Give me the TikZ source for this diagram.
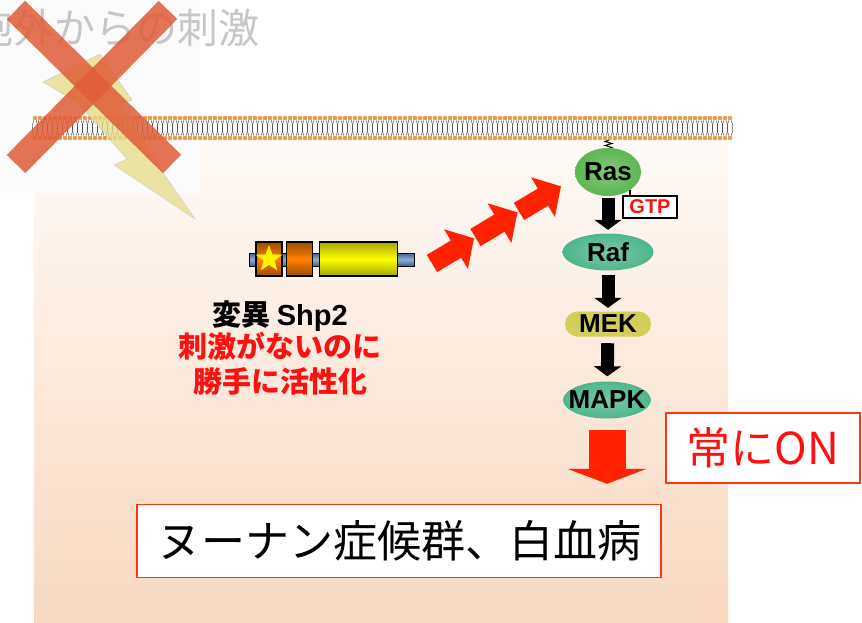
\documentclass[tikz,border=0pt]{standalone}
\usepackage{fontspec}
\setmainfont{Noto Sans CJK JP}
\newfontfamily\labelfont{Liberation Sans}
\usetikzlibrary{positioning,shapes.geometric,arrows.meta}

\definecolor{paneltop}{RGB}{254,250,247}
\definecolor{panelbot}{RGB}{248,216,191}
\definecolor{lipid}{RGB}{232,156,80}
\definecolor{crossred}{RGB}{224,92,56}
\definecolor{boltyel}{RGB}{230,222,140}
\definecolor{rasgreen}{RGB}{92,182,82}
\definecolor{kinteal}{RGB}{78,182,140}
\definecolor{mekyel}{RGB}{210,206,88}
\definecolor{sigred}{RGB}{255,34,0}
\definecolor{textred}{RGB}{255,16,16}
\definecolor{boxred}{RGB}{255,52,20}
\definecolor{shpblue}{RGB}{70,122,178}

\tikzset{
  kinase/.style={ellipse, inner sep=0pt},
  klabel/.style={font=\labelfont\bfseries\fontsize{26}{26}\selectfont},
  flow/.style={line width=13pt, -{Triangle[length=10pt,width=27pt]}},
  bigflow/.style={sigred, line width=37pt, -{Triangle[length=15pt,width=79pt]}},
  sigarrow/.style={sigred, line width=20pt, -{Triangle[length=21pt,width=45pt]}},
  shpdomain/.style={draw=black, line width=1.2pt, minimum height=34pt, inner sep=0pt},
  tail/.style={black!80, line width=0.4pt},
  xbar/.style={crossred, line width=26pt, opacity=0.85},
}

\begin{document}
\begin{tikzpicture}[x=1pt, y=-1pt]
  \useasboundingbox (0,0) rectangle (862,622);

  % cell interior and the faded stimulus corner
  \fill[top color=paneltop, bottom color=panelbot] (34,139) rectangle (728,622);
  \fill[black!1.5] (0,0) rectangle (200,193);
  \node[anchor=west, inner sep=0pt, text=black!22, font=\fontsize{41}{41}\selectfont]
    (stimulus) at (-28,28) {胞外からの刺激};

  % membrane
  \foreach \x in {35,40,...,730} {
    \draw[tail] (\x-1.2,120.5) .. controls (\x-3.2,125) and (\x-3.2,131) .. (\x-1.2,135.5);
    \draw[tail] (\x+1.2,120.5) .. controls (\x+3.2,125) and (\x+3.2,131) .. (\x+1.2,135.5);
    \fill[lipid] (\x,118) circle (2.3) (\x,138) circle (2.3);
  }

  % lightning, crossed out
  \filldraw[fill=boltyel, draw=blue!20!gray!40, opacity=0.8]
    (43,82) -- (100,54) -- (132,100) -- (122,104) -- (160,168) -- (195,219)
    -- (114,165) -- (127,159) -- (78,103) -- cycle;
  \draw[xbar] (16,10) -- (172,164);
  \draw[xbar] (168,10) -- (16,164);

  % mutant Shp2
  \fill[draw=black, line width=1pt, top color=shpblue!80!black, bottom color=shpblue!80!black,
    middle color=shpblue!60!white] (249,253) rectangle (414,266);
  \node[shpdomain, minimum width=26pt, top color=orange!60!black, bottom color=orange!60!black,
    middle color=orange] (dom1) at (269,259) {};
  \node[shpdomain, minimum width=26pt, top color=orange!60!black, bottom color=orange!60!black,
    middle color=orange, right=3pt of dom1] (dom2) {};
  \node[shpdomain, minimum width=78pt, top color=yellow!65!black, bottom color=yellow!65!black,
    middle color=yellow, right=6pt of dom2] (dom3) {};
  \node[star, star points=5, star point ratio=2.4, fill=yellow, inner sep=0pt,
    minimum size=28pt] (mut) at (dom1) {};

  \node[align=center, font=\bfseries\fontsize{29}{35}\selectfont] (shp2) at (280,348)
    {変異 {\labelfont Shp2}\\[-3pt]
     \textcolor{textred}{刺激がないのに}\\
     \textcolor{textred}{勝手に活性化}};

  % signal from Shp2 towards Ras
  \coordinate (s1a) at (432,263.5);  \coordinate (s1b) at (474,238.3);
  \coordinate (s2a) at (475.5,237.5); \coordinate (s2b) at (517.5,212.3);
  \coordinate (s3a) at (519,211.5);  \coordinate (s3b) at (561,186.3);
  \draw[sigarrow] (s1a) -- (s1b);
  \draw[sigarrow] (s2a) -- (s2b);
  \draw[sigarrow] (s3a) -- (s3b);

  % Ras-MAPK cascade
  \draw[line width=1pt] (609,140) -- (605,141.5) -- (612,143.5) -- (605,145.5) -- (612,147.5) -- (608,149);
  \node[kinase, inner color=rasgreen!75!white, outer color=rasgreen, minimum width=66pt,
    minimum height=48pt, label={[klabel]center:Ras}] (ras) at (608,172) {};
  \node[draw=black, line width=1.2pt, fill=white, minimum width=54pt, minimum height=22pt,
    inner sep=0pt, text=textred, font=\labelfont\bfseries\fontsize{20}{20}\selectfont]
    (gtp) at (650,207) {GTP};
  \draw[line width=2pt] (ras.-40) -- (ras.-40 |- gtp.north);

  \node[kinase, inner color=kinteal!75!white, outer color=kinteal, minimum width=91pt,
    minimum height=37pt, label={[klabel]center:Raf}] (raf) at (608,252) {};
  \node[rectangle, rounded corners=12.5pt, fill=mekyel, minimum width=86pt, minimum height=25pt,
    inner sep=0pt, label={[klabel]center:MEK}] (mek) at (608,324) {};
  \node[kinase, inner color=kinteal!75!white, outer color=kinteal, minimum width=88pt,
    minimum height=37pt, label={[klabel]center:MAPK}] (mapk) at (607,400) {};

  \draw[flow, shorten <=2pt, shorten >=3.5pt] (ras) -- (raf);
  \draw[flow, shorten <=4.5pt, shorten >=3.5pt] (raf) -- (mek);
  \draw[flow, shorten <=6.5pt, shorten >=5pt] (mek) -- (mapk);

  \node[draw=boxred, line width=1.5pt, fill=white, minimum width=194pt, minimum height=70pt,
    text=textred, font=\fontsize{44}{44}\selectfont] (always) at (763,448) {常にON};
  \node[draw=boxred, line width=1.5pt, fill=white, minimum width=524pt, minimum height=73pt,
    font=\fontsize{44}{44}\selectfont] (disease) at (399,541) {ヌーナン症候群、白血病};

  \draw[bigflow, shorten <=11pt, shorten >=20pt] (mapk) -- (mapk |- disease.north);
\end{tikzpicture}
\end{document}
